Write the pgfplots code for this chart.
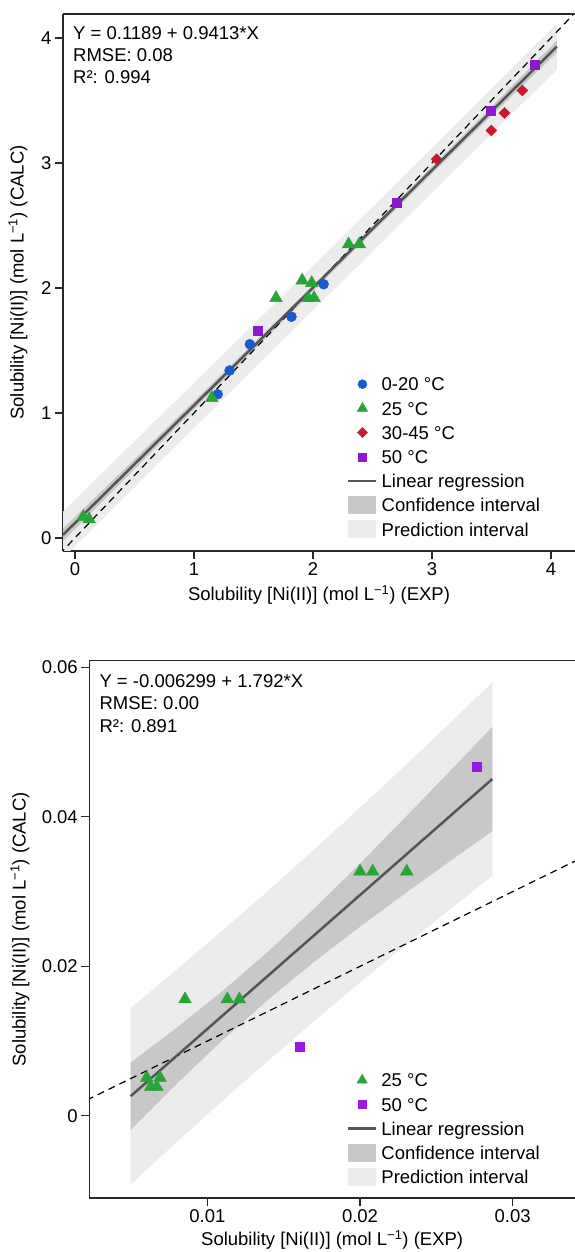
\documentclass[border=0pt]{standalone}
\usepackage{fontspec}
\setmainfont{Liberation Sans}
\usepackage{pgfplots}
\pgfplotsset{compat=1.18}

\definecolor{c020}{RGB}{25,90,205}
\definecolor{c25}{RGB}{40,165,55}
\definecolor{c3045}{RGB}{200,25,45}
\definecolor{c50}{RGB}{140,25,205}
\definecolor{c50b}{RGB}{155,25,230}
\definecolor{regline}{RGB}{85,85,85}
\definecolor{cifill}{RGB}{200,200,200}
\definecolor{pifill}{RGB}{236,236,236}
\definecolor{spine}{RGB}{40,40,40}

\newcommand{\fs}{\fontsize{18.5}{22}\selectfont}

\pgfplotsset{
  legmark/.style={legend image code/.code={\draw[mark repeat=2,mark phase=2,##1] plot coordinates {(0pt,0pt) (14pt,0pt) (28pt,0pt)};}},
  legline/.style={legend image code/.code={\draw[##1, line width=2.5pt] (0pt,0pt) -- (28pt,0pt);}},
  legarea/.style={legend image code/.code={\fill[##1, draw=none] (0pt,-9pt) rectangle (28pt,9pt);}},
  panel/.style={
    scale only axis,
    axis x line*=bottom, axis y line*=left,
    axis line style={spine, line width=1.4pt},
    tick style={spine, line width=1.2pt},
    tick align=outside, major tick length=8pt,
    font=\fs,
    /pgf/number format/assume math mode=true,
    scaled ticks=false,
    legend cell align=left,
    legend style={draw=none, fill=none, font=\fs, inner sep=0pt, row sep=3.5pt,
      nodes={inner sep=0pt, text height=17pt, text depth=3.7pt},
      /tikz/every odd column/.append style={column sep=4pt}},
  },
  ci/.style={fill=cifill, draw=none, forget plot},
  pi/.style={fill=pifill, draw=none, forget plot},
  reg/.style={regline, line width=2.5pt, forget plot},
  oneone/.style={black, line width=1.2pt, dash pattern=on 7pt off 5pt, forget plot},
}

\begin{document}
\begin{tikzpicture}

% ---------- upper panel ----------
\begin{axis}[panel, name=ax1,
  at={(63pt,701pt)}, anchor=south west,
  width=512pt, height=537pt,
  xmin=-0.1, xmax=4.2025, ymin=-0.104, ymax=4.192,
  xtick={0,1,2,3,4}, ytick={0,1,2,3,4},
  xlabel={Solubility [Ni(II)] (mol L\textsuperscript{−1}) (EXP)},
  ylabel={Solubility [Ni(II)] (mol L\textsuperscript{−1}) (CALC)},
  xlabel style={at={(axis description cs:0.5,-0.0819)}, anchor=center},
  ylabel style={at={(axis description cs:-0.0879,0.5)}, anchor=center, rotate=0},
  legend style={at={(0.5547,0.3303)}, anchor=north west},
]
\addplot[pi] coordinates {(-0.1,0.2108) (1,1.2402) (2.2,2.3628) (3.2,3.3101) (4.05,4.1162)
  (4.05,3.7462) (3.2,2.9521) (2.2,2.0088) (1,0.8802) (-0.1,-0.1612)};
\addplot[ci] coordinates {(-0.1,0.0748) (1,1.0922) (2.2,2.2078) (3.2,3.1611) (4.05,3.9792)
  (4.05,3.8832) (3.2,3.1011) (2.2,2.1638) (1,1.0282) (-0.1,-0.0252)};
\addplot[oneone] coordinates {(-0.2,-0.2) (4.3,4.3)};
\addplot[reg] coordinates {(-0.1,0.0248) (4.05,3.9312)};

\addplot[only marks, mark=*, mark size=5pt, c020, forget plot] coordinates {
  (1.20,1.15) (1.30,1.34) (1.47,1.55) (1.82,1.77) (2.09,2.03)};
\addplot[only marks, mark=triangle*, mark size=7.3pt, c25, forget plot] coordinates {
  (0.07,0.17) (0.12,0.15) (1.15,1.12) (1.69,1.92) (1.91,2.06) (1.99,2.04)
  (1.96,1.92) (2.01,1.92) (2.30,2.35) (2.39,2.35)};
\addplot[only marks, mark=square*, mark size=3.9pt, mark options={rotate=45}, c3045, forget plot] coordinates {
  (3.04,3.03) (3.50,3.26) (3.61,3.40) (3.76,3.58)};
\addplot[only marks, mark=square*, mark size=4.5pt, c50, forget plot] coordinates {
  (1.54,1.66) (2.70,2.68) (3.49,3.42) (3.86,3.79)};

\addlegendimage{legmark, only marks, mark=*, mark size=4.5pt, c020}
\addlegendentry{0-20 °C}
\addlegendimage{legmark, only marks, mark=triangle*, mark size=6pt, c25}
\addlegendentry{25 °C}
\addlegendimage{legmark, only marks, mark=square*, mark size=3.6pt, mark options={rotate=45}, c3045}
\addlegendentry{30-45 °C}
\addlegendimage{legmark, only marks, mark=square*, mark size=4pt, c50}
\addlegendentry{50 °C}
\addlegendimage{legline, regline}
\addlegendentry{Linear regression}
\addlegendimage{legarea, fill=cifill}
\addlegendentry{Confidence interval}
\addlegendimage{legarea, fill=pifill}
\addlegendentry{Prediction interval}

\node[anchor=west, inner sep=0pt] at (rel axis cs:0.0195,0.9646) {Y = 0.1189 + 0.9413*X};
\node[anchor=west, inner sep=0pt] at (rel axis cs:0.0195,0.9236) {RMSE: 0.08};
\node[anchor=west, inner sep=0pt] at (rel axis cs:0.0195,0.8827) {R²: 0.994};
\end{axis}
\draw[spine, line width=1.4pt] (ax1.north west) -- (ax1.north east);

% ---------- lower panel ----------
\begin{axis}[panel, name=ax2,
  at={(89.3pt,54pt)}, anchor=south west,
  width=485.7pt, height=537.3pt,
  xmin=0.00227, xmax=0.03408, ymin=-0.0110, ymax=0.0609,
  xtick={0.01,0.02,0.03}, xticklabels={0.01,0.02,0.03},
  ytick={0,0.02,0.04,0.06}, yticklabels={0,0.02,0.04,0.06},
  xlabel={Solubility [Ni(II)] (mol L\textsuperscript{−1}) (EXP)},
  ylabel={Solubility [Ni(II)] (mol L\textsuperscript{−1}) (CALC)},
  xlabel style={at={(axis description cs:0.5,-0.0782)}, anchor=center},
  ylabel style={at={(axis description cs:-0.1427,0.5)}, anchor=center, rotate=0},
  legend style={at={(0.5300,0.2389)}, anchor=north west},
]
\addplot[pi] coordinates {(0.00498,0.014428) (0.008,0.019574) (0.011,0.024806) (0.014,0.030161)
  (0.017,0.035641) (0.020,0.041241) (0.023,0.046955) (0.026,0.052775) (0.02866,0.058013)
  (0.02866,0.032107) (0.026,0.027811) (0.023,0.022879) (0.020,0.017841) (0.017,0.012689)
  (0.014,0.007417) (0.011,0.002020) (0.008,-0.003500) (0.00498,-0.009178)};
\addplot[ci] coordinates {(0.00498,0.007131) (0.008,0.011793) (0.011,0.016699) (0.014,0.022003)
  (0.017,0.027727) (0.020,0.033771) (0.023,0.040008) (0.026,0.046358) (0.02866,0.052045)
  (0.02866,0.038075) (0.026,0.034228) (0.023,0.029826) (0.020,0.025311) (0.017,0.020603)
  (0.014,0.015575) (0.011,0.010127) (0.008,0.004281) (0.00498,-0.001881)};
\addplot[oneone] coordinates {(0,0) (0.036,0.036)};
\addplot[reg] coordinates {(0.00498,0.002625) (0.02866,0.04506)};

\addplot[only marks, mark=triangle*, mark size=7.3pt, c25, forget plot] coordinates {
  (0.00603,0.0051) (0.0069,0.0051) (0.00629,0.0039) (0.00669,0.0039)
  (0.00854,0.0156) (0.01131,0.0156) (0.0121,0.0156)
  (0.0200,0.0327) (0.02083,0.0327) (0.02306,0.0327)};
\addplot[only marks, mark=square*, mark size=4.5pt, c50b, forget plot] coordinates {
  (0.01607,0.00923) (0.02764,0.0467)};

\addlegendimage{legmark, only marks, mark=triangle*, mark size=6pt, c25}
\addlegendentry{25 °C}
\addlegendimage{legmark, only marks, mark=square*, mark size=4pt, c50b}
\addlegendentry{50 °C}
\addlegendimage{legline, regline}
\addlegendentry{Linear regression}
\addlegendimage{legarea, fill=cifill}
\addlegendentry{Confidence interval}
\addlegendimage{legarea, fill=pifill}
\addlegendentry{Prediction interval}

\node[anchor=west, inner sep=0pt] at (rel axis cs:0.0206,0.9628) {Y = -0.006299 + 1.792*X};
\node[anchor=west, inner sep=0pt] at (rel axis cs:0.0206,0.9207) {RMSE: 0.00};
\node[anchor=west, inner sep=0pt] at (rel axis cs:0.0206,0.8790) {R²: 0.891};
\end{axis}
\draw[spine, line width=1.4pt] (ax2.north west) -- (ax2.north east);

\pgfresetboundingbox
\path[use as bounding box] (0pt,0pt) rectangle (575pt,1252pt);
\end{tikzpicture}
\end{document}
